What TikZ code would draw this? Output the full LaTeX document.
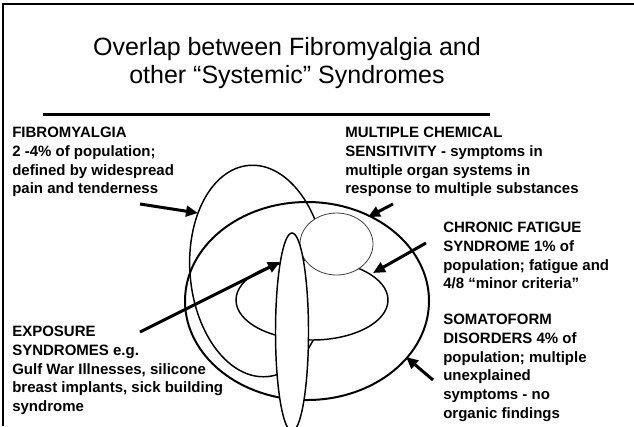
\documentclass[tikz,border=0pt]{standalone}
\usepackage{fontspec}
\setmainfont{Liberation Sans}
\usetikzlibrary{arrows.meta}

\begin{document}
\begin{tikzpicture}[
    x=0.75pt, y=-0.75pt,
    lbl/.style={anchor=north west,inner sep=0pt,align=left,
                font=\fontsize{11.25}{14}\selectfont\bfseries},
    headline/.style={anchor=north,inner sep=0pt,align=center,
                font=\fontsize{18.75}{21}\selectfont},
    ptr/.style={-{Triangle[length=9pt,width=8pt]},line width=2.25pt},
    ring/.style={line width=1.1pt},
    cover/.style={ring,fill=white},
  ]
  \useasboundingbox (0,0) rectangle (634,426);

  % --- slide frame and title ---
  \draw[line width=1.5pt] (3,426) -- (3,4) -- (634,4);
  \node[headline] (title) at (287,37)
    {Overlap between Fibromyalgia and\\other “Systemic” Syndromes};
  \draw[line width=2.25pt] (43,114) -- (490,114);

  % --- overlapping syndromes (back to front) ---
  \draw[ring,line width=1.5pt] (307,301) ellipse [x radius=122,y radius=99];
  \draw[ring,rotate around={5:(258,271)}] (258,271) ellipse [x radius=68,y radius=106];
  \draw[cover] (312,300) ellipse [x radius=76,y radius=40];
  \draw[fill=white,draw=black!75,line width=0.6pt] (336.5,244) ellipse [x radius=36.5,y radius=31];
  \draw[cover] (292,332) ellipse [x radius=16.5,y radius=99];

  % --- labels ---
  \node[lbl] (fm) at (12,127)
    {FIBROMYALGIA\\2 -4\% of population;\\defined by widespread\\pain and tenderness};
  \node[lbl] (mcs) at (345,127)
    {MULTIPLE CHEMICAL\\SENSITIVITY - symptoms in\\multiple organ systems in\\response to multiple substances};
  \node[lbl] (cfs) at (443,222)
    {CHRONIC FATIGUE\\SYNDROME 1\% of\\population; fatigue and\\4/8 “minor criteria”};
  \node[lbl] (sfd) at (443,314)
    {SOMATOFORM\\DISORDERS 4\% of\\population; multiple\\unexplained\\symptoms - no\\organic findings};
  \node[lbl] (exp) at (12,326)
    {EXPOSURE\\SYNDROMES e.g.\\Gulf War Illnesses, silicone\\breast implants, sick building\\syndrome};

  % --- arrow ends ---
  \coordinate (fm-tail)  at (140,204);  \coordinate (fm-tip)  at (198,213);
  \coordinate (exp-tail) at (140,332);  \coordinate (exp-tip) at (280,262);
  \coordinate (mcs-tail) at (393,204);  \coordinate (mcs-tip) at (368,217);
  \coordinate (cfs-tail) at (426,243);  \coordinate (cfs-tip) at (373,273);
  \coordinate (sfd-tail) at (433,380);  \coordinate (sfd-tip) at (406,357);

  % --- pointers ---
  \draw[ptr] (fm-tail)  -- (fm-tip);
  \draw[ptr] (exp-tail) -- (exp-tip);
  \draw[ptr] (mcs-tail) -- (mcs-tip);
  \draw[ptr] (cfs-tail) -- (cfs-tip);
  \draw[ptr] (sfd-tail) -- (sfd-tip);

\end{tikzpicture}
\end{document}
